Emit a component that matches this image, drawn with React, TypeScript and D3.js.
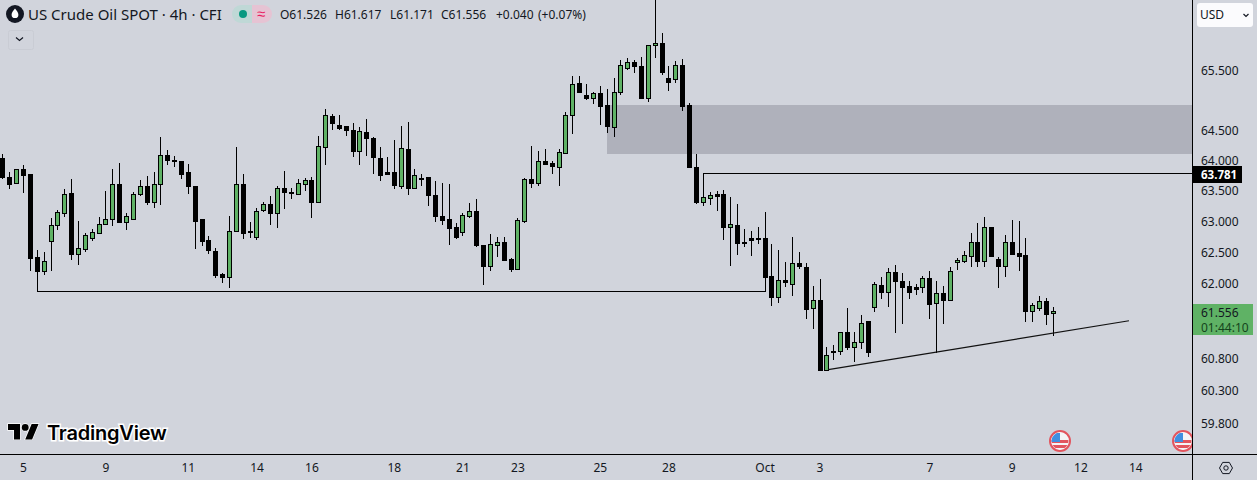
import React from "react";
import * as d3 from "d3";

const WIDTH = 1257;
const HEIGHT = 480;

const opens = [64.03,63.72,63.62,63.85,63.77,62.42,62.19,62.68,62.93,63.14,63.46,62.46,62.55,62.73,62.81,62.95,63.04,63.61,62.99,63.03,63.45,63.58,63.32,63.60,64.08,64.00,63.98,63.81,63.58,63.04,62.69,62.51,62.15,62.10,62.84,63.60,62.84,62.75,63.19,63.28,63.14,63.55,63.47,63.45,63.61,63.67,63.32,64.22,64.74,64.59,64.56,64.50,64.16,64.46,64.37,64.04,63.81,63.80,63.58,64.18,63.55,63.71,63.72,63.43,63.09,63.03,62.91,62.83,63.09,63.16,62.61,62.28,62.62,62.66,62.39,62.23,63.00,63.69,63.62,63.98,63.96,63.89,64.12,64.75,65.29,65.08,65.03,65.12,64.92,64.55,65.13,65.55,65.645,65.58,65.03,65.93,65.96,65.375,65.35,65.59,64.915,63.88,63.32,63.38,63.44,63.44,62.91,62.93,62.67,62.73,62.72,62.73,62.12,61.78,62.05,61.98,62.32,62.26,61.61,61.73,60.62,60.92,60.92,61.22,60.99,61.06,61.39,61.62,61.97,61.85,62.18,62.03,61.95,61.93,61.93,62.09,61.69,61.84,61.73,62.34,62.36,62.44,62.67,62.35,62.90,62.38,62.27,62.66,62.48,62.45,61.55,61.61,61.71,61.526];
const highs = [64.10,63.81,63.85,63.92,63.78,62.53,62.50,63.05,63.19,63.52,63.69,63.01,62.80,62.87,63.06,63.50,63.86,63.96,63.13,63.48,63.67,63.74,63.80,64.39,64.17,64.07,63.99,63.94,63.58,63.04,62.76,62.56,62.16,63.09,64.22,63.77,62.99,63.21,63.31,63.41,63.58,63.82,63.55,63.69,63.70,63.72,64.40,64.85,64.77,64.75,64.57,64.61,64.55,64.69,64.39,64.22,64.05,64.34,64.57,64.64,63.85,63.77,63.72,63.66,63.62,63.61,62.97,63.13,63.29,63.36,62.61,62.79,62.74,62.74,62.41,63.05,63.71,64.24,64.15,64.19,63.99,64.18,64.80,65.41,65.41,65.27,65.14,65.24,65.19,65.37,65.68,65.72,65.67,65.73,65.93,66.79,66.14,65.57,65.66,65.70,64.96,64.11,63.77,63.47,63.49,63.51,63.39,63.28,62.87,62.84,62.91,63.15,62.63,62.53,62.34,62.74,62.50,62.32,61.95,62.07,60.99,61.01,61.22,61.60,61.22,61.49,61.40,62.01,62.10,62.24,62.29,62.17,62.04,61.98,62.12,62.20,62.04,61.95,62.26,62.40,62.52,62.81,62.97,63.07,62.90,62.42,62.78,63.02,63.00,62.73,61.69,61.79,61.76,61.617];
const lows = [63.71,63.55,63.62,63.48,62.21,61.87,62.15,62.21,62.87,63.09,62.39,62.31,62.52,62.70,62.81,62.95,62.93,62.99,62.87,63.03,63.42,63.28,63.23,63.28,63.94,63.91,63.70,63.46,62.57,62.61,62.49,62.10,62.01,61.94,62.84,62.72,62.74,62.71,63.16,62.96,62.91,63.22,63.38,63.45,63.51,63.07,63.32,63.94,64.51,64.51,64.42,64.07,63.94,64.09,63.79,63.67,63.77,63.55,63.55,63.44,63.55,63.59,63.26,63.01,62.96,62.63,62.73,62.78,63.07,62.60,61.99,62.21,62.44,62.37,62.20,62.23,62.99,63.56,63.59,63.94,63.79,63.59,64.12,64.45,65.14,65.02,64.95,64.60,64.47,64.40,65.10,65.52,65.48,65.03,64.99,65.73,65.44,65.17,65.31,64.84,63.89,63.30,63.27,63.28,63.18,62.71,62.29,62.47,62.59,62.45,62.65,61.87,61.65,61.70,61.95,61.81,62.24,61.45,61.29,60.62,60.62,60.80,60.88,60.96,60.77,60.97,60.84,61.55,61.76,61.64,61.22,61.37,61.76,61.83,61.86,61.45,60.91,61.36,61.73,62.23,62.34,62.28,62.28,62.28,62.43,61.94,62.12,62.47,62.21,61.40,61.40,61.57,61.35,61.171];
const closes = [63.73,63.61,63.85,63.76,62.41,62.19,62.36,62.93,63.15,63.44,62.46,62.56,62.77,62.82,62.95,63.03,63.60,62.99,63.08,63.44,63.58,63.31,63.60,64.08,64.00,63.99,63.78,63.58,63.01,62.68,62.53,62.13,62.10,62.84,63.60,62.81,62.83,63.17,63.28,63.14,63.55,63.47,63.46,63.62,63.67,63.32,64.23,64.75,64.62,64.54,64.50,64.15,64.48,64.36,64.06,63.76,63.78,63.59,64.20,63.55,63.75,63.70,63.42,63.09,63.02,62.89,62.74,63.10,63.16,62.61,62.28,62.63,62.67,62.37,62.23,63.02,63.69,63.62,63.98,63.94,63.91,64.13,64.75,65.27,65.14,65.03,65.12,64.90,64.57,65.13,65.59,65.64,65.57,65.03,65.93,65.97,65.48,65.30,65.59,64.91,63.89,63.31,63.39,63.43,63.41,62.91,62.95,62.65,62.66,62.70,62.71,62.10,61.78,62.05,62.01,62.32,62.27,61.59,61.73,60.62,60.86,60.91,61.22,60.99,61.06,61.37,60.90,61.98,61.85,62.18,62.03,61.94,61.86,61.91,62.09,61.67,61.84,61.73,62.19,62.37,62.45,62.67,62.36,62.90,62.43,62.27,62.66,62.47,62.44,61.55,61.65,61.71,61.50,61.556];

const priceTicks = [65.5, 64.5, 64.0, 63.5, 63.0, 62.5, 62.0, 60.8, 60.3, 59.8];
const timeLabels = ["5","9","11","14","16","18","21","23","25","28","Oct","3","7","9","12","14"];
const timeBars = [3,15,27,37,45,57,67,75,87,97,111,119,135,147,157,165];

const zoneTop = 64.92;
const zoneBottom = 64.1;
const zoneStartBar = 88;
const supportPrice = 61.87;
const supportBars = [5, 111];
const resistancePrice = 63.781;
const resistanceBar = 102;
const trendBars = [120.2, 164];
const trendPrices = [60.63, 61.40];
const lastPrice = 61.556;
const countdown = "01:44:10";
const legendValues = [
  { text: "O61.526", x: 280 },
  { text: "H61.617", x: 335 },
  { text: "L61.171", x: 390 },
  { text: "C61.556", x: 441 },
  { text: "+0.040", x: 496 },
  { text: "(+0.07%)", x: 538 },
];

const INK = "#131722";
const BG = "#d1d4dc";
const GREEN = "#5fb265";
const FONT = "'Noto Sans', sans-serif";

const x = d3.scaleLinear().domain([0, 153]).range([2.95, 1053.45]);
const y = d3.scaleLog().domain([59.8, 65.5]).range([423, 70.5]);
const px = (i: number) => Math.floor(x(i));
const py = (p: number) => Math.round(y(p));

function Candle({ i }: { i: number }) {
  const o = opens[i], h = highs[i], l = lows[i], c = closes[i];
  const up = c >= o;
  const cx = px(i);
  const top = py(Math.max(o, c));
  const bot = py(Math.min(o, c));
  const hTop = Math.min(py(h), top);
  const hBot = Math.max(py(l), bot);
  const bh = Math.max(bot - top + 1, 2);
  return (
    <g shapeRendering="crispEdges">
      <rect x={cx} y={hTop} width={1} height={hBot - hTop + 1} fill="#000" />
      <rect x={cx - 2} y={top} width={5} height={bh} fill="#000" />
      {up && bh >= 3 && <rect x={cx - 1} y={top + 1} width={3} height={bh - 2} fill={GREEN} />}
    </g>
  );
}

function Flag({ cx, cy }: { cx: number; cy: number }) {
  const id = `flag-${cx}`;
  return (
    <g>
      <clipPath id={id}><circle cx={cx} cy={cy} r={8.5} /></clipPath>
      <circle cx={cx} cy={cy} r={10} fill="#f3f3f5" stroke="#e2555e" strokeWidth={2} />
      <g clipPath={`url(#${id})`}>
        <rect x={cx - 9} y={cy - 9} width={18} height={18} fill="#f4f4f6" />
        <rect x={cx - 9} y={cy - 1} width={18} height={3} fill="#e2555e" />
        <rect x={cx - 9} y={cy + 4} width={18} height={3} fill="#e2555e" />
        <rect x={cx - 9} y={cy - 8} width={9} height={9} fill="#3f8fe0" />
      </g>
    </g>
  );
}

export default function App() {
  const zoneY = py(zoneTop);
  const zoneH = py(zoneBottom) - zoneY;
  return (
    <svg
      width={WIDTH}
      height={HEIGHT}
      viewBox={`0 0 ${WIDTH} ${HEIGHT}`}
      style={{ position: "fixed", left: 0, top: 0, display: "block", background: BG }}
      fontFamily={FONT}
    >
      <rect x={0} y={0} width={WIDTH} height={HEIGHT} fill={BG} />

      {/* zone */}
      <rect x={px(zoneStartBar)} y={zoneY} width={1192 - px(zoneStartBar)} height={zoneH} fill="#afb1bb" shapeRendering="crispEdges" />

      {/* candles */}
      {opens.map((_, i) => <Candle key={i} i={i} />)}

      {/* drawn lines */}
      <rect x={px(supportBars[0])} y={py(supportPrice)} width={px(supportBars[1]) - px(supportBars[0])} height={1} fill="#000" shapeRendering="crispEdges" />
      <rect x={px(resistanceBar)} y={py(resistancePrice)} width={1192 - px(resistanceBar)} height={1} fill="#000" shapeRendering="crispEdges" />
      <line x1={x(trendBars[0])} y1={y(trendPrices[0])} x2={x(trendBars[1])} y2={y(trendPrices[1])} stroke="#111" strokeWidth={1.2} />

      {/* flags */}
      <Flag cx={1060} cy={441} />
      <clipPath id="paneClip"><rect x={0} y={0} width={1192} height={454} /></clipPath>
      <g clipPath="url(#paneClip)"><Flag cx={1183} cy={441} /></g>

      {/* watermark */}
      <g transform="translate(8 420.5) scale(0.86)" fill="#000" stroke="#fff" strokeWidth={1.6} style={{ paintOrder: "stroke" }}>
        <path d="M14 22H7V11H0V4h14v18zM28 22h-8l7.5-18h8L28 22z" />
        <circle cx={20} cy={8} r={4} />
      </g>
      <text x={47} y={440} fontFamily="Inter, sans-serif" fontSize={20} fontWeight={600} fill="#000" stroke="#fff" strokeWidth={3} style={{ paintOrder: "stroke" }} letterSpacing={-0.2}>TradingView</text>

      {/* axes */}
      <rect x={0} y={454} width={WIDTH} height={1} fill="#000" shapeRendering="crispEdges" />
      <rect x={1192} y={0} width={1} height={HEIGHT} fill="#000" shapeRendering="crispEdges" />

      {/* price labels */}
      {priceTicks.map((p) => (
        <text key={p} x={1201} y={y(p) + 4.5} fontSize={12} fill={INK}>{p.toFixed(3)}</text>
      ))}

      {/* time labels */}
      {timeLabels.map((t, k) => (
        <text key={k} x={x(timeBars[k])} y={471.5} fontSize={12} fill={INK} textAnchor="middle">{t}</text>
      ))}

      {/* resistance tag */}
      <rect x={1193} y={166} width={49} height={17} fill="#000" shapeRendering="crispEdges" />
      <text x={1201} y={179} fontSize={11.5} fontWeight={700} fill="#fff">{resistancePrice.toFixed(3)}</text>

      {/* last price tag */}
      <rect x={1193} y={304} width={60} height={31} fill="#5fb265" shapeRendering="crispEdges" />
      <text x={1201} y={317} fontSize={12} fill={INK}>{lastPrice.toFixed(3)}</text>
      <text x={1201} y={331.5} fontSize={12} fill="#14441c">{countdown}</text>

      {/* currency button */}
      <rect x={1197} y={3} width={56} height={24} rx={3} fill="#fbfbfd" />
      <text x={1200} y={19} fontSize={12} fill={INK}>USD</text>
      <path d="M1243.5 14l2.5 2.5 2.5-2.5" fill="none" stroke={INK} strokeWidth={1.2} />

      {/* settings icon */}
      <path d="M1219.5 468l3.2-5.6h6.6l3.2 5.6-3.2 5.6h-6.6z" fill="none" stroke={INK} strokeWidth={1} />
      <circle cx={1226} cy={468} r={2.2} fill="none" stroke={INK} strokeWidth={1} />

      {/* legend */}
      <circle cx={15} cy={14} r={9} fill="#131722" />
      <path d="M15 8.5c2 2.6 3.4 4.3 3.4 6.2a3.4 3.4 0 0 1-6.8 0c0-1.9 1.4-3.6 3.4-6.2z" fill="#fff" />
      <text x={28} y={19.5} fontSize={15} fill={INK}>US Crude Oil SPOT · 4h · CFI</text>
      <path d="M241 5h11v18h-11a9 9 0 0 1 0-18z" fill="#bfd8d6" />
      <path d="M252 5h11a9 9 0 0 1 0 18h-11z" fill="#e6c3d3" />
      <circle cx={243} cy={14} r={4} fill="#089981" />
      <text x={261} y={19} fontSize={15} fill="#e91e63" textAnchor="middle">≈</text>
      {legendValues.map((v) => (
        <text key={v.text} x={v.x} y={18.5} fontSize={12} fill={INK}>{v.text}</text>
      ))}
      <rect x={8.5} y={30.5} width={25} height={19} rx={2} fill="none" stroke="#c9ccd4" />
      <path d="M16 37.5l3.5 3 3.5-3" fill="none" stroke={INK} strokeWidth={1.2} />
    </svg>
  );
}
